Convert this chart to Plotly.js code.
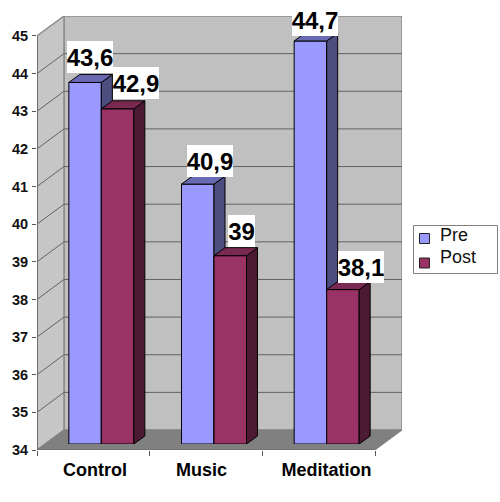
<!DOCTYPE html>
<html>
<head>
<meta charset="utf-8">
<script src="https://cdn.plot.ly/plotly-3.0.1.min.js"></script>
<style>html,body{margin:0;padding:0;background:#fff}</style>
</head>
<body>
<div id="chart" style="width:500px;height:502px"></div>
<script>
var categories = ['Control', 'Music', 'Meditation'];
var seriesNames = ['Pre', 'Post'];
var preValues = [43.6, 40.9, 44.7];
var postValues = [42.9, 39, 38.1];
var yTicks = [34, 35, 36, 37, 38, 39, 40, 41, 42, 43, 44, 45];
var categoryEdges = [0, 1, 2, 3];
var categoryCentres = [0.5, 1.5, 2.5];
var categoryLabelPositions = [0.515, 1.46, 2.57];
var preLabelShift = [[5, 25], [12, 23], [5, 21]];
var postLabelShift = [[18, 26], [11, 25], [18, 23]];

var W = 500, H = 502;
var pxCat = 338 / 3, pxUnit = 414.3 / 11;
var wallDx = 27 / pxCat, wallDy = 20 / pxUnit;
var barDx = 11 / pxCat, barDy = 8 / pxUnit;
var barW = 32.5 / pxCat;
var FONT = '"Liberation Sans", Arial, sans-serif';
var PRE = {front: '#9999ff', side: '#4d4d80', top: '#6a6ab4'};
var POST = {front: '#993366', side: '#4d1a33', top: '#7a2952'};
function dx(a, b) { return [a / W, b / W]; }
function dy(bottom, top) { return [1 - bottom / H, 1 - top / H]; }

var traces = [];
function poly(xs, ys, fill, line, xa, ya, width) {
  traces.push({type: 'scatter', mode: 'lines', x: xs, y: ys, fill: fill ? 'toself' : 'none',
    fillcolor: fill || undefined, line: {color: line, width: width || 1},
    xaxis: xa, yaxis: ya, showlegend: false, hoverinfo: 'skip'});
}

var X0 = categoryEdges[0], X1 = categoryEdges[categoryEdges.length - 1];
var Y0 = yTicks[0], Y1 = yTicks[yTicks.length - 1];
// walls and floor
poly([X0 + wallDx, X1 + wallDx, X1 + wallDx, X0 + wallDx, X0 + wallDx],
     [Y0 + wallDy, Y0 + wallDy, Y1 + wallDy, Y1 + wallDy, Y0 + wallDy], '#c0c0c0', '#8c8c8c', 'x', 'y', 1.5);
poly([X0, X0 + wallDx, X0 + wallDx, X0, X0], [Y0, Y0 + wallDy, Y1 + wallDy, Y1, Y0], '#c6c6c6', '#8c8c8c', 'x', 'y', 1.5);
poly([X0, X1, X1 + wallDx, X0 + wallDx, X0], [Y0, Y0, Y0 + wallDy, Y0 + wallDy, Y0], '#808080', '#808080', 'x', 'y', 1);
// gridlines
var gx = [], gy = [];
yTicks.slice(1, -1).forEach(function (v) {
  gx.push(X0, X0 + wallDx, X1 + wallDx, null);
  gy.push(v, v + wallDy, v + wallDy, null);
});
poly(gx, gy, null, '#626262', 'x', 'y', 1);
// axis lines
poly([X0, X0, X1], [Y1, Y0, Y0], null, '#707070', 'x', 'y', 2);
// category labels axis
traces.push({type: 'scatter', mode: 'none', x: categoryLabelPositions, y: categoryLabelPositions.map(function () { return Y0; }),
  xaxis: 'x4', yaxis: 'y', showlegend: false, hoverinfo: 'skip'});

function series(name, values, offset, c, xa, ya) {
  var sx = [], sy = [], tx = [], ty = [];
  values.forEach(function (v, i) {
    var l = categoryCentres[i] + offset, r = l + barW;
    sx.push(r, r + barDx, r + barDx, r, r, null);
    sy.push(Y0, Y0 + barDy, v + barDy, v, Y0, null);
    tx.push(l, r, r + barDx, l + barDx, l, null);
    ty.push(v, v, v + barDy, v + barDy, v, null);
  });
  traces.push({type: 'bar', name: name, x: categoryCentres, y: values.map(function (v) { return v - Y0; }), base: Y0, width: barW, offset: offset,
    marker: {color: c.front, line: {color: '#000', width: 1}}, xaxis: xa, yaxis: ya, hoverinfo: 'skip', showlegend: false});
  poly(sx, sy, c.side, '#000', xa, ya, 1);
  poly(tx, ty, c.top, '#000', xa, ya, 1);
}
series(seriesNames[0], preValues, -barW, PRE, 'x2', 'y2');
series(seriesNames[1], postValues, 0, POST, 'x3', 'y3');

function labels(values, offset, shifts, xa, ya) {
  return values.map(function (v, i) {
    var t = String(v).replace('.', ',');
    return {xref: xa, yref: ya, x: categoryCentres[i] + offset + barW / 2, y: v,
      text: t, showarrow: false, bgcolor: '#fff', borderpad: 0, borderwidth: 0,
      width: t.length > 2 ? 46 : 27, height: 32,
      xshift: shifts[i][0], yshift: shifts[i][1],
      font: {family: FONT, size: 24, color: '#000', weight: 700}};
  });
}
function legendText(name, y) {
  return {xref: 'paper', yref: 'paper', x: 439 / W, y: 1 - y / H, xanchor: 'left', yanchor: 'middle',
    text: name, showarrow: false, borderpad: 0, font: {family: FONT, size: 18, color: '#111'}};
}
function legendSwatch(color, top) {
  return {type: 'rect', xref: 'paper', yref: 'paper', x0: 419.5 / W, x1: 429.5 / W, y0: 1 - top / H, y1: 1 - (top + 10) / H,
    fillcolor: color, line: {color: '#222', width: 1}};
}

var hidden = {showgrid: false, zeroline: false, showline: false, showticklabels: false, ticks: '', fixedrange: true};
function merge(a, b) { return Object.assign({}, a, b); }

var layout = {
  width: W, height: H, autosize: false,
  margin: {l: 0, r: 0, t: 0, b: 0},
  paper_bgcolor: '#fff', plot_bgcolor: 'rgba(0,0,0,0)',
  font: {family: FONT, color: '#000'},
  xaxis: {domain: dx(37, 402), range: [X0, X1 + wallDx], tickmode: 'array', tickvals: categoryEdges,
    ticktext: categoryEdges.map(function () { return ''; }), ticks: 'outside', ticklen: 5, tickcolor: '#555',
    tickwidth: 1, showgrid: false, zeroline: false, showline: false, fixedrange: true, anchor: 'y'},
  yaxis: {domain: dy(450, 16), range: [Y0, Y1 + wallDy], tickmode: 'array', tickvals: yTicks,
    ticks: 'outside', ticklen: 4, tickcolor: '#555', tickwidth: 1, showgrid: false, zeroline: false, showline: false,
    fixedrange: true, anchor: 'x', tickfont: {family: FONT, size: 14.5, color: '#111', weight: 700}, ticklabelstandoff: 1},
  xaxis4: {overlaying: 'x', anchor: 'y', side: 'bottom', range: [X0, X1 + wallDx], tickmode: 'array',
    tickvals: categoryLabelPositions, ticktext: categories, ticks: '', showgrid: false, zeroline: false, showline: false,
    fixedrange: true, tickfont: {family: FONT, size: 18, color: '#000', weight: 700}, ticklabelstandoff: 7},
  xaxis2: merge(hidden, {domain: dx(45, 383), range: [X0, X1], anchor: 'y2'}),
  yaxis2: merge(hidden, {domain: dy(444, 29.7), range: [Y0, Y1], anchor: 'x2'}),
  xaxis3: merge(hidden, {overlaying: 'x2', range: [X0, X1], anchor: 'y3'}),
  yaxis3: merge(hidden, {overlaying: 'y2', range: [Y0, Y1], anchor: 'x3'}),
  showlegend: false,
  shapes: [
    {type: 'rect', xref: 'paper', yref: 'paper', x0: 413.5 / W, x1: 497.5 / W, y0: 1 - 225.5 / H, y1: 1 - 273.5 / H,
      fillcolor: '#fff', line: {color: '#808080', width: 1}},
    legendSwatch(PRE.front, 233.5), legendSwatch(POST.front, 258)
  ],
  annotations: labels(preValues, -barW, preLabelShift, 'x2', 'y2')
    .concat(labels(postValues, 0, postLabelShift, 'x3', 'y3'))
    .concat([legendText(seriesNames[0], 235), legendText(seriesNames[1], 257)])
};

Plotly.newPlot('chart', traces, layout, {displayModeBar: false, staticPlot: true});
</script>
</body>
</html>
